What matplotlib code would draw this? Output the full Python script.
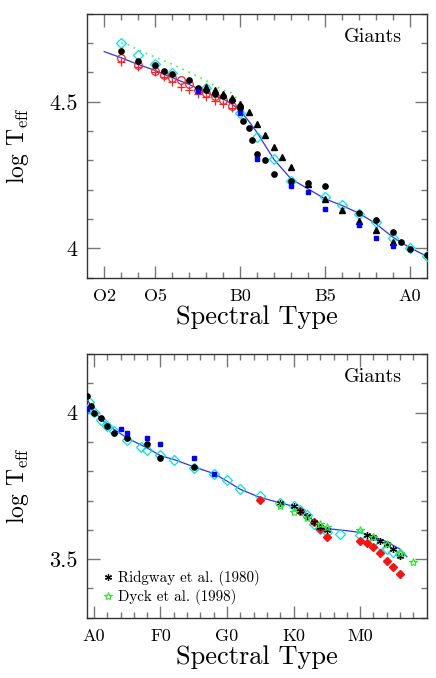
import matplotlib
matplotlib.use("Agg")
import matplotlib.pyplot as plt
from matplotlib.ticker import FixedLocator

plt.rcParams['font.family'] = ['cmr10', 'DejaVu Serif']
plt.rcParams['mathtext.fontset'] = 'cm'
plt.rcParams['axes.formatter.use_mathtext'] = True

# ---------------- top panel data (O0=0, B0=10, A0=20) ----------------
top_line_sp = [2, 3, 4, 5, 6, 7, 8, 9, 9.5, 10, 10.5, 11, 12, 13, 14, 15, 16, 17, 18, 19, 20, 21]
top_line_T = [4.671, 4.650, 4.627, 4.607, 4.582, 4.559, 4.531, 4.510, 4.493, 4.470, 4.435,
              4.395, 4.303, 4.237, 4.203, 4.169, 4.146, 4.120, 4.084, 4.038, 4.002, 3.973]

top_dot_sp = [3, 3.3, 4, 5, 6, 7, 8, 9, 9.5, 10]
top_dot_T = [4.700, 4.698, 4.677, 4.652, 4.628, 4.601, 4.572, 4.539, 4.530, 4.499]

top_cyan_sp = [3, 4, 5, 6, 8, 10, 11, 12, 13, 15, 16, 17, 18, 19, 20, 21]
top_cyan_T = [4.700, 4.658, 4.628, 4.599, 4.548, 4.461, 4.379, 4.305, 4.231, 4.174,
              4.146, 4.118, 4.091, 4.036, 4.002, 3.973]

top_black_sp = [3, 4, 5, 5.5, 6, 7, 7.5, 8, 8.5, 9, 9.5, 10, 10, 10.2, 10.5, 10.7, 11,
                11.5, 12, 13, 14, 15, 17, 18, 19, 19.5, 20, 21]
top_black_T = [4.673, 4.639, 4.624, 4.604, 4.593, 4.573, 4.548, 4.540, 4.525, 4.518,
               4.507, 4.487, 4.480, 4.436, 4.411, 4.368, 4.322, 4.300, 4.254, 4.231,
               4.222, 4.211, 4.120, 4.097, 4.055, 4.021, 3.998, 3.978]

top_tri_sp = [8, 8.5, 9, 9.5, 10, 10.5, 11, 11.5, 12, 12.5, 13, 14, 15, 16, 17, 18, 19]
top_tri_T = [4.550, 4.541, 4.525, 4.514, 4.491, 4.465, 4.423, 4.385, 4.347, 4.311,
             4.279, 4.218, 4.169, 4.129, 4.093, 4.061, 4.023]

top_blue_sp = [7.5, 10, 11, 13, 14, 15, 17, 18, 19]
top_blue_T = [4.536, 4.460, 4.305, 4.211, 4.192, 4.135, 4.078, 4.036, 4.007]

top_rcirc_sp = [3, 4, 5, 5.5, 6, 6.5, 7, 7.5, 8, 8.5, 9, 9.5]
top_rcirc_T = [4.650, 4.627, 4.605, 4.590, 4.582, 4.573, 4.559, 4.541, 4.531, 4.519, 4.505, 4.487]

top_rplus_sp = [3, 4, 5, 5.5, 6, 6.5, 7, 7.5, 8, 8.5, 9, 9.5]
top_rplus_T = [4.635, 4.618, 4.601, 4.586, 4.567, 4.552, 4.541, 4.525, 4.516, 4.502, 4.491, 4.480]

top_tick_pos = [2, 5, 10, 15, 20]
top_tick_lab = ['O2', 'O5', 'B0', 'B5', 'A0']

# ---------------- bottom panel data (A0=20, F0=30, G0=40, K0=50, M0=60) ----------------
bot_line_sp = [19, 20, 22, 25, 28, 30, 32, 35, 38, 40, 42, 45, 48, 50, 51, 52, 53, 54, 55,
               58, 60, 62, 64, 66, 67]
bot_line_T = [4.045, 4.003, 3.958, 3.913, 3.879, 3.853, 3.840, 3.815, 3.792, 3.766, 3.738,
              3.710, 3.692, 3.680, 3.668, 3.653, 3.630, 3.612, 3.604, 3.597, 3.591, 3.577,
              3.559, 3.534, 3.508]

bot_black_sp = [19, 19.5, 20, 21, 22, 23, 25, 28, 30, 35]
bot_black_T = [4.057, 4.023, 4.000, 3.981, 3.955, 3.930, 3.913, 3.893, 3.845, 3.815]

bot_blue_sp = [19, 24, 25, 28, 30, 35, 38]
bot_blue_T = [4.011, 3.943, 3.930, 3.913, 3.893, 3.845, 3.792]

bot_cyan_sp = [19.3, 20, 21, 22, 23, 25, 27, 28, 30, 32, 35, 38, 40, 42, 45, 48, 50, 51, 52,
               53, 54, 55, 57, 60, 61, 62, 63, 64, 65, 66]
bot_cyan_T = [4.037, 4.003, 3.975, 3.955, 3.936, 3.907, 3.882, 3.871, 3.856, 3.839, 3.811,
              3.789, 3.769, 3.738, 3.715, 3.692, 3.681, 3.668, 3.649, 3.619, 3.604, 3.593,
              3.587, 3.582, 3.570, 3.559, 3.548, 3.534, 3.525, 3.517]

bot_ridg_sp = [48, 50, 51, 52, 53, 54, 55, 61, 62, 63, 64, 65, 66]
bot_ridg_T = [3.693, 3.681, 3.664, 3.647, 3.627, 3.611, 3.600, 3.582, 3.574, 3.562, 3.551,
              3.536, 3.511]

bot_red_sp = [45, 51, 53, 54, 55, 60, 61, 62, 63, 64, 65, 66]
bot_red_T = [3.701, 3.664, 3.625, 3.604, 3.577, 3.562, 3.555, 3.543, 3.521, 3.492, 3.472, 3.449]

bot_dyck_sp = [48, 50, 52, 54, 55, 60, 62, 64, 66, 68]
bot_dyck_T = [3.681, 3.661, 3.642, 3.619, 3.608, 3.598, 3.574, 3.553, 3.522, 3.491]

bot_tick_pos = [20, 30, 40, 50, 60]
bot_tick_lab = ['A0', 'F0', 'G0', 'K0', 'M0']

fig = plt.figure(figsize=(4.36, 6.78), dpi=100)
ax1 = fig.add_axes([0.2002, 0.5906, 0.7785, 0.389])
ax2 = fig.add_axes([0.2002, 0.0889, 0.7785, 0.389])


def style(ax, xmaj, xlab, xmin, ymaj, ylab, ymin):
    ax.set_xticks(xmaj)
    ax.set_xticklabels(xlab)
    ax.xaxis.set_minor_locator(FixedLocator(xmin))
    ax.set_yticks(ymaj)
    ax.set_yticklabels(ylab)
    ax.yaxis.set_minor_locator(FixedLocator(ymin))
    ax.tick_params(which='both', direction='in', top=True, right=True, color='#777777', width=1.0)
    ax.tick_params(which='major', length=9)
    ax.tick_params(which='minor', length=4.5)
    ax.tick_params(axis='x', which='major', labelsize=13, pad=8)
    ax.tick_params(axis='y', which='major', labelsize=16, pad=7)
    for s in ax.spines.values():
        s.set_color('#333333')
        s.set_linewidth(1.0)
    ax.set_xlabel('Spectral Type', fontsize=19, labelpad=1)
    ax.set_ylabel(r'log T$_{\rm eff}$', fontsize=17, labelpad=13)
    ax.text(0.842, 0.913, 'Giants', transform=ax.transAxes, ha='center', va='center', fontsize=14.5)


# top panel
ax1.plot(top_line_sp, top_line_T, color='#3030ff', lw=0.9, zorder=2)
ax1.plot(top_dot_sp, top_dot_T, color='#33ff33', lw=1.2, ls=(0, (1, 3)), zorder=2)
ax1.plot(top_cyan_sp, top_cyan_T, ls='none', marker='D', ms=5.5, mfc='none', mec='#00e5e5', mew=0.9, zorder=3)
ax1.plot(top_rcirc_sp, top_rcirc_T, ls='none', marker='o', ms=5.5, mfc='none', mec='#ff2020', mew=0.9, zorder=3)
ax1.plot(top_rplus_sp, top_rplus_T, ls='none', marker='+', ms=6, mec='#ff2020', mew=0.9, zorder=3)
ax1.plot(top_black_sp, top_black_T, ls='none', marker='o', ms=3.8, mfc='black', mec='black', zorder=4)
ax1.plot(top_tri_sp, top_tri_T, ls='none', marker='^', ms=4.2, mfc='black', mec='black', zorder=4)
ax1.plot(top_blue_sp, top_blue_T, ls='none', marker='s', ms=2.4, mfc='#0000ff', mec='#0000ff', zorder=5)
ax1.set_xlim(1, 21)
ax1.set_ylim(3.9, 4.8)
style(ax1, top_tick_pos, top_tick_lab, list(range(2, 21)), [4.0, 4.5], ['4', '4.5'],
      [3.9 + 0.1 * i for i in range(10)])

# bottom panel
ax2.plot(bot_line_sp, bot_line_T, color='#3030ff', lw=0.9, zorder=2)
ax2.plot(bot_cyan_sp, bot_cyan_T, ls='none', marker='D', ms=5.5, mfc='none', mec='#00e5e5', mew=0.9, zorder=3)
ax2.plot(bot_black_sp, bot_black_T, ls='none', marker='o', ms=3.8, mfc='black', mec='black', zorder=4)
ax2.plot(bot_blue_sp, bot_blue_T, ls='none', marker='s', ms=2.4, mfc='#0000ff', mec='#0000ff', zorder=5)
ax2.plot(bot_red_sp, bot_red_T, ls='none', marker='D', ms=3.8, mfc='#ff1010', mec='#ff1010', zorder=4)
h_r, = ax2.plot(bot_ridg_sp, bot_ridg_T, ls='none', marker=(6, 2, 0), ms=5, mec='black', mew=0.9, zorder=5,
                label='Ridgway et al. (1980)')
h_d, = ax2.plot(bot_dyck_sp, bot_dyck_T, ls='none', marker='*', ms=6, mfc='none', mec='#22ee22', mew=0.8, zorder=5,
                label='Dyck et al. (1998)')
ax2.set_xlim(19, 70)
ax2.set_ylim(3.3, 4.2)
style(ax2, bot_tick_pos, bot_tick_lab, list(range(20, 70, 2)), [3.5, 4.0], ['3.5', '4'],
      [3.3 + 0.1 * i for i in range(10)])
ax2.legend(handles=[h_r, h_d], loc='lower left', bbox_to_anchor=(0.02, 0.015), frameon=False,
           fontsize=10.8, handlelength=0.6, handletextpad=0.4, labelspacing=0.2, borderaxespad=0.2)

fig.savefig('out.png', dpi=100)
